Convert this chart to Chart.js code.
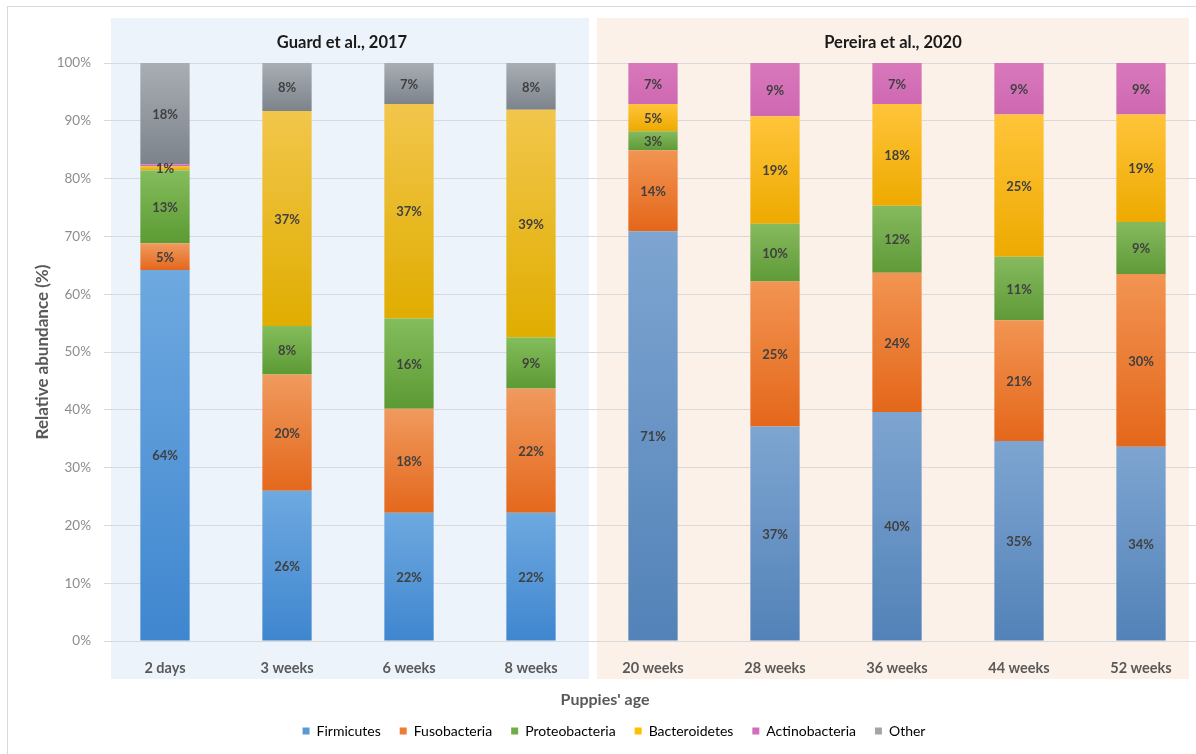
<!DOCTYPE html>
<html><head><meta charset="utf-8">
<script src="https://cdn.jsdelivr.net/npm/chart.js@4"></script>
<style>html,body{margin:0;padding:0;background:#fff;overflow:hidden}#wrap{width:1206px;height:754px;position:relative}</style>
</head><body><div id="wrap"><canvas id="c"></canvas></div>
<script>
const categories = ["2 days","3 weeks","6 weeks","8 weeks","20 weeks","28 weeks","36 weeks","44 weeks","52 weeks"];
const seriesNames = ["Firmicutes","Fusobacteria","Proteobacteria","Bacteroidetes","Actinobacteria","Other"];
const firmicutes     = [64.2, 26.0, 22.2, 22.2, 70.9, 37.1, 39.6, 34.6, 33.6];
const fusobacteria   = [4.6, 20.1, 18.0, 21.5, 14.0, 25.1, 24.1, 20.9, 29.9];
const proteobacteria = [12.6, 8.4, 15.6, 8.8, 3.3, 10.0, 11.6, 11.0, 9.0];
const bacteroidetes  = [0.8, 37.2, 37.1, 39.4, 4.7, 18.6, 17.6, 24.6, 18.6];
const actinobacteria = [0.3, 0, 0, 0, 7.1, 9.2, 7.1, 8.9, 8.9];
const other          = [17.5, 8.3, 7.1, 8.1, 0, 0, 0, 0, 0];
const yTicks = [0,10,20,30,40,50,60,70,80,90,100];
const groupTitles = ["Guard et al., 2017", "Pereira et al., 2020"];
const groupStart = [0, 4];
const groupEnd = [3, 8];

const FONT = "Lato, 'Open Sans', sans-serif";
// [solid, topLeft, bottomLeft, topRight, bottomRight]
const palettes = [
  ["#5b9bd5", "#6ea9e0", "#3f86cf", "#7ea5d1", "#5282b8"],
  ["#ed7d31", "#f09a5e", "#e4681c", "#f29452", "#e4671a"],
  ["#70ad47", "#84bd5c", "#5c9a34", "#86ba5e", "#5f9a38"],
  ["#ffc000", "#f2c64c", "#e0ad00", "#ffc43a", "#eeaa00"],
  ["#d36fb8", "#d878bb", "#cf68b2", "#d878bb", "#cf68b2"],
  ["#a5a5a5", "#a9aeb4", "#7d838b", "#a9aeb4", "#7d838b"]
];
const seriesData = [firmicutes, fusobacteria, proteobacteria, bacteroidetes, actinobacteria, other];

function segFill(pi) {
  const pal = palettes[pi];
  return function(ctx) {
    if (ctx.type !== 'data') return pal[0];
    const chart = ctx.chart, ys = chart.scales.y;
    if (!ys || !chart.chartArea) return pal[0];
    const di = ctx.datasetIndex, i = ctx.dataIndex;
    let start = 0;
    for (let d = 0; d < di; d++) start += chart.data.datasets[d].data[i];
    const end = start + chart.data.datasets[di].data[i];
    const y1 = ys.getPixelForValue(end), y0 = ys.getPixelForValue(start);
    if (!isFinite(y1) || !isFinite(y0) || Math.abs(y1 - y0) < 0.5) return pal[0];
    const g = chart.ctx.createLinearGradient(0, y1, 0, y0);
    const right = i >= groupStart[1];
    g.addColorStop(0, right ? pal[3] : pal[1]);
    g.addColorStop(1, right ? pal[4] : pal[2]);
    return g;
  };
}

const panelsPlugin = {
  id: 'panels',
  beforeDraw(chart) {
    const c = chart.ctx, x = chart.scales.x, a = chart.chartArea;
    c.save();
    c.fillStyle = '#ffffff';
    c.fillRect(0, 0, chart.width, chart.height);
    c.strokeStyle = '#d9d9d9';
    c.lineWidth = 1;
    c.strokeRect(7.5, 6.5, chart.width + 20, chart.height + 20);
    const mid = (x.getPixelForValue(groupEnd[0]) + x.getPixelForValue(groupStart[1])) / 2;
    const top = a.top - 45, bottom = a.bottom + 38;
    const l0 = x.getPixelForValue(groupStart[0]) - 54, r0 = mid - 3;
    const l1 = mid + 5, r1 = x.getPixelForValue(groupEnd[1]) + 48;
    c.fillStyle = '#edf3fa';
    c.fillRect(l0, top, r0 - l0, bottom - top);
    c.fillStyle = '#fbf1e9';
    c.fillRect(l1, top, r1 - l1, bottom - top);
    c.fillStyle = '#1a1a1a';
    c.font = "bold 16.5px " + FONT;
    c.textAlign = 'center';
    c.textBaseline = 'middle';
    c.fillText(groupTitles[0], (l0 + r0) / 2 - 8, a.top - 20);
    c.fillText(groupTitles[1], (l1 + r1) / 2, a.top - 20);
    c.restore();
  },
  afterDatasetsDraw(chart) {
    const c = chart.ctx;
    c.save();
    c.font = "bold 13px " + FONT;
    c.fillStyle = '#404040';
    c.textAlign = 'center';
    c.textBaseline = 'middle';
    chart.data.datasets.forEach((ds, di) => {
      const meta = chart.getDatasetMeta(di);
      meta.data.forEach((el, i) => {
        const v = ds.data[i];
        if (v < 0.5) return;
        c.fillText(Math.round(v) + '%', el.x, (el.y + el.base) / 2 + 1);
      });
    });
    c.restore();
  },
  afterDraw(chart) {
    const c = chart.ctx;
    c.save();
    c.font = "bold 16px " + FONT;
    c.fillStyle = '#595959';
    c.textAlign = 'center';
    c.textBaseline = 'middle';
    c.fillText("Puppies' age", 605, 700);
    c.restore();
  }
};

const datasets = seriesNames.map((n, k) => ({
  label: n,
  data: seriesData[k],
  backgroundColor: segFill(k),
  borderWidth: 0,
  categoryPercentage: 1,
  barPercentage: 0.404
}));

new Chart(document.getElementById('c'), {
  type: 'bar',
  data: { labels: categories, datasets },
  plugins: [panelsPlugin],
  options: {
    responsive: true,
    maintainAspectRatio: false,
    animation: false,
    layout: { padding: { top: 63, left: 26, right: 4, bottom: 6 } },
    plugins: {
      tooltip: { enabled: false },
      legend: {
        position: 'bottom',
        labels: {
          boxWidth: 7, boxHeight: 7, padding: 19,
          color: '#595959',
          font: { family: FONT, size: 14 },
          generateLabels(chart) {
            return chart.data.datasets.map((ds, i) => ({
              text: ds.label, fillStyle: palettes[i][0], strokeStyle: palettes[i][0],
              lineWidth: 0, hidden: false, datasetIndex: i
            }));
          }
        }
      }
    },
    scales: {
      x: {
        stacked: true,
        grid: { display: false },
        border: { display: false },
        ticks: { color: '#595959', padding: 11, font: { family: FONT, size: 14.5, weight: 'bold' } },
        afterFit(s) { s.height = 64; }
      },
      y: {
        stacked: true,
        min: 0, max: 100,
        afterBuildTicks(s) { s.ticks = yTicks.map(v => ({ value: v })); },
        grid: { color: '#d9d9d9', drawTicks: false },
        border: { display: false },
        ticks: { color: '#8c8c8c', padding: 13, font: { family: FONT, size: 13.5 }, callback: v => v + '%' },
        title: { display: true, text: 'Relative abundance (%)', color: '#595959', padding: { top: 6, bottom: 0 }, font: { family: FONT, size: 17, weight: 'bold' } },
        afterFit(s) { s.width = 78; }
      }
    }
  }
});
</script>
</body></html>
